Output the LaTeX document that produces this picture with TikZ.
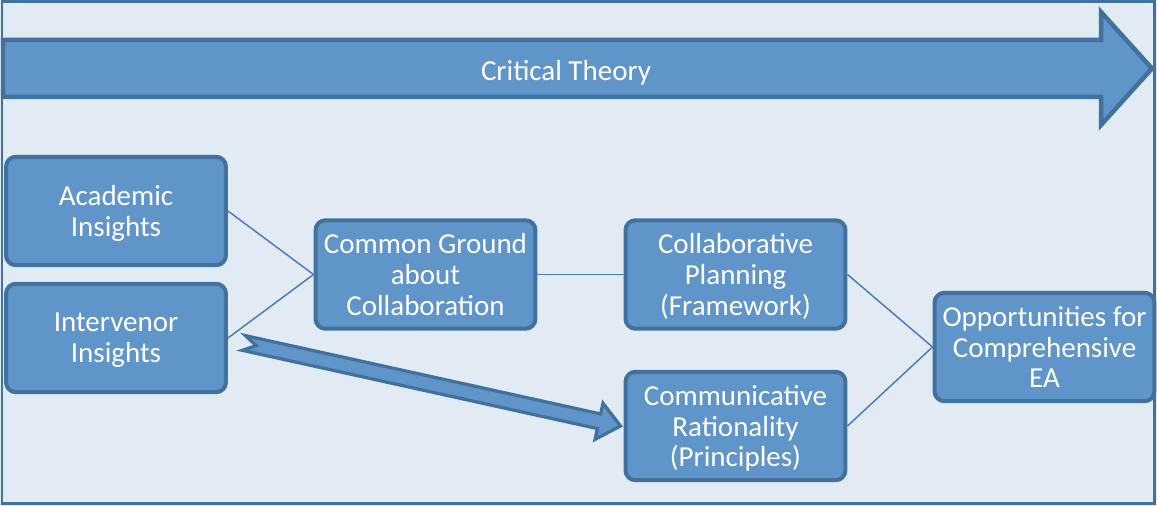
\documentclass[tikz,border=0pt]{standalone}
\usepackage{fontspec}
\setmainfont{Carlito}
\usetikzlibrary{calc}
\definecolor{boxfill}{RGB}{96,149,201}
\definecolor{boxline}{RGB}{65,113,158}
\definecolor{paper}{RGB}{226,234,244}
\definecolor{linkline}{RGB}{74,126,187}

\begin{document}
\begin{tikzpicture}[x=0.02cm,y=-0.02cm,
  box/.style={shape=rectangle,rounded corners=0.2cm,fill=boxfill,draw=boxline,line width=0.08cm,text=white,align=center,minimum width=4.4cm,minimum height=2.17cm,inner sep=0pt,text depth=0pt,font=\fontsize{16.5}{17.5}\selectfont},
  link/.style={draw=linkline,line width=0.03cm},
  banner/.style={fill=boxfill,draw=boxline,line width=0.09cm,line join=miter},
  fat/.style={fill=boxfill,draw=boxline,line width=0.065cm,line join=miter}]
\useasboundingbox (0,0) rectangle (1157,506);
\fill[paper] (0,0) rectangle (1157,506);
\draw[boxline,line width=0.06cm] (2,2) rectangle (1154,504);

\draw[banner] (3,40) -- (1101,40) -- (1101,12) -- (1152,68.5) -- (1101,125) -- (1101,97) -- (3,97) -- cycle;
\node[text=white,text depth=0pt,font=\fontsize{16.5}{17.5}\selectfont] (6) at (566,70) {Critical Theory};

\node[box] (0) at (116,211) {Academic\\Insights};
\node[box] (1) at (116,338) {Intervenor\\Insights};
\node[box] (2) at (425.5,274.5) {Common Ground\\about\\Collaboration};
\node[box] (3) at (735.5,274.5) {Collaborative\\Planning\\(Framework)};
\node[box] (4) at (735.5,426) {Communicative\\Rationality\\(Principles)};
\node[box] (5) at (1044.5,347) {Opportunities for\\Comprehensive\\EA};

\path [link] (0.east) edge (2.west);
\path [link] (1.east) edge (2.west);
\path [link] (2.east) edge (3.west);
\path [link] (3.east) edge (5.west);
\path [link] (4.east) edge (5.west);

\coordinate (t) at ($(1.east)+(16,5)$);
\coordinate (h) at ($(4.west)+(-3,0)$);
\coordinate (b) at ($(h)!0.44cm!(t)$);
\coordinate (n) at ($(t)!0.25cm!(h)$);
\draw[fat] ($(t)!0.15cm!90:(h)$) -- ($(b)!0.15cm!90:(h)$) -- ($(b)!0.37cm!90:(h)$) -- (h)
  -- ($(b)!0.37cm!-90:(h)$) -- ($(b)!0.15cm!-90:(h)$) -- ($(t)!0.15cm!-90:(h)$) -- (n) -- cycle;
\end{tikzpicture}
\end{document}
